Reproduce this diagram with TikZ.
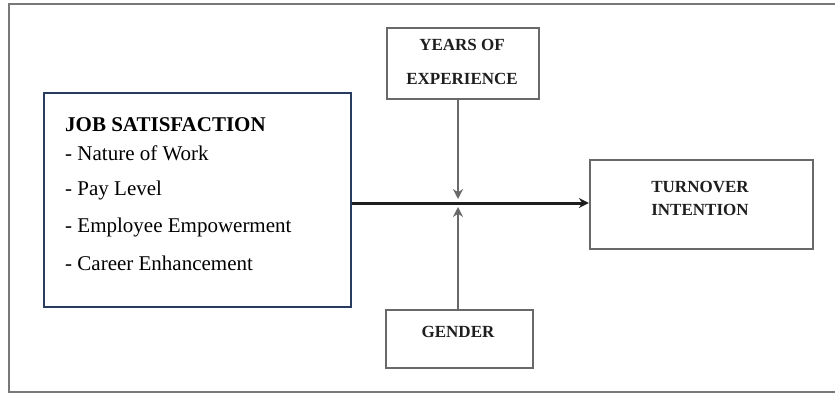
\documentclass[tikz,border=0pt]{standalone}
\usepackage{fontspec}
\setmainfont{Liberation Serif}
\usetikzlibrary{arrows.meta}
\definecolor{frame}{RGB}{120,120,120}
\definecolor{boxgray}{RGB}{105,105,105}
\definecolor{jobblue}{RGB}{40,60,95}
\definecolor{ink}{RGB}{30,30,30}
\begin{document}
\begin{tikzpicture}[x=1pt,y=-1pt,
  smallbox/.style={draw=boxgray,line width=2.2pt,fill=white,inner sep=0pt},
  captext/.style={font=\fontsize{17}{20}\selectfont\bfseries,text=ink,align=center},
  jobtext/.style={font=\fontsize{21}{24}\selectfont,text=black,anchor=west,inner sep=0pt},
  conn/.style={draw=boxgray,line width=2pt},
  tip/.style={-{Stealth[length=10pt,width=10pt]}}]
\useasboundingbox (0,0) rectangle (835,396);
% outer frame
\draw[frame,line width=2.4pt] (835,4) -- (9,4) -- (9,392) -- (835,392);
% boxes
\node[smallbox,minimum width=152pt,minimum height=71pt] (years) at (463,63.5) {};
\node[captext] (yt) at (462,62) {YEARS OF\\[14pt]EXPERIENCE};
\node[smallbox,minimum width=147pt,minimum height=58pt] (gender) at (459.5,339) {};
\node[captext] (gt) at (458,332) {GENDER};
\node[smallbox,minimum width=223pt,minimum height=89pt] (turn) at (701.5,204.5) {};
\node[captext] (tt) at (700,198) {TURNOVER\\[3pt]INTENTION};
\node[draw=jobblue,line width=1.8pt,fill=white,minimum width=307pt,minimum height=214pt,inner sep=0pt] (job) at (197.5,200) {};
\node[jobtext,font=\fontsize{21}{24}\selectfont\bfseries] (j0) at (65,125) {JOB SATISFACTION};
\node[jobtext] (j1) at (65,153) {- Nature of Work};
\node[jobtext] (j2) at (65,190) {- Pay Level};
\node[jobtext] (j3) at (65,227) {- Employee Empowerment};
\node[jobtext] (j4) at (65,263) {- Career Enhancement};
% connectors
\coordinate (mid) at (458,203);
\coordinate (midtop) at (458,199);
\coordinate (midbot) at (458,207);
\draw[draw=ink,line width=3pt,tip] (job.east |- mid) -- (turn.west |- mid);
\draw[conn,tip] (years.south -| mid) -- (midtop);
\draw[conn,tip] (gender.north -| mid) -- (midbot);
\end{tikzpicture}
\end{document}
